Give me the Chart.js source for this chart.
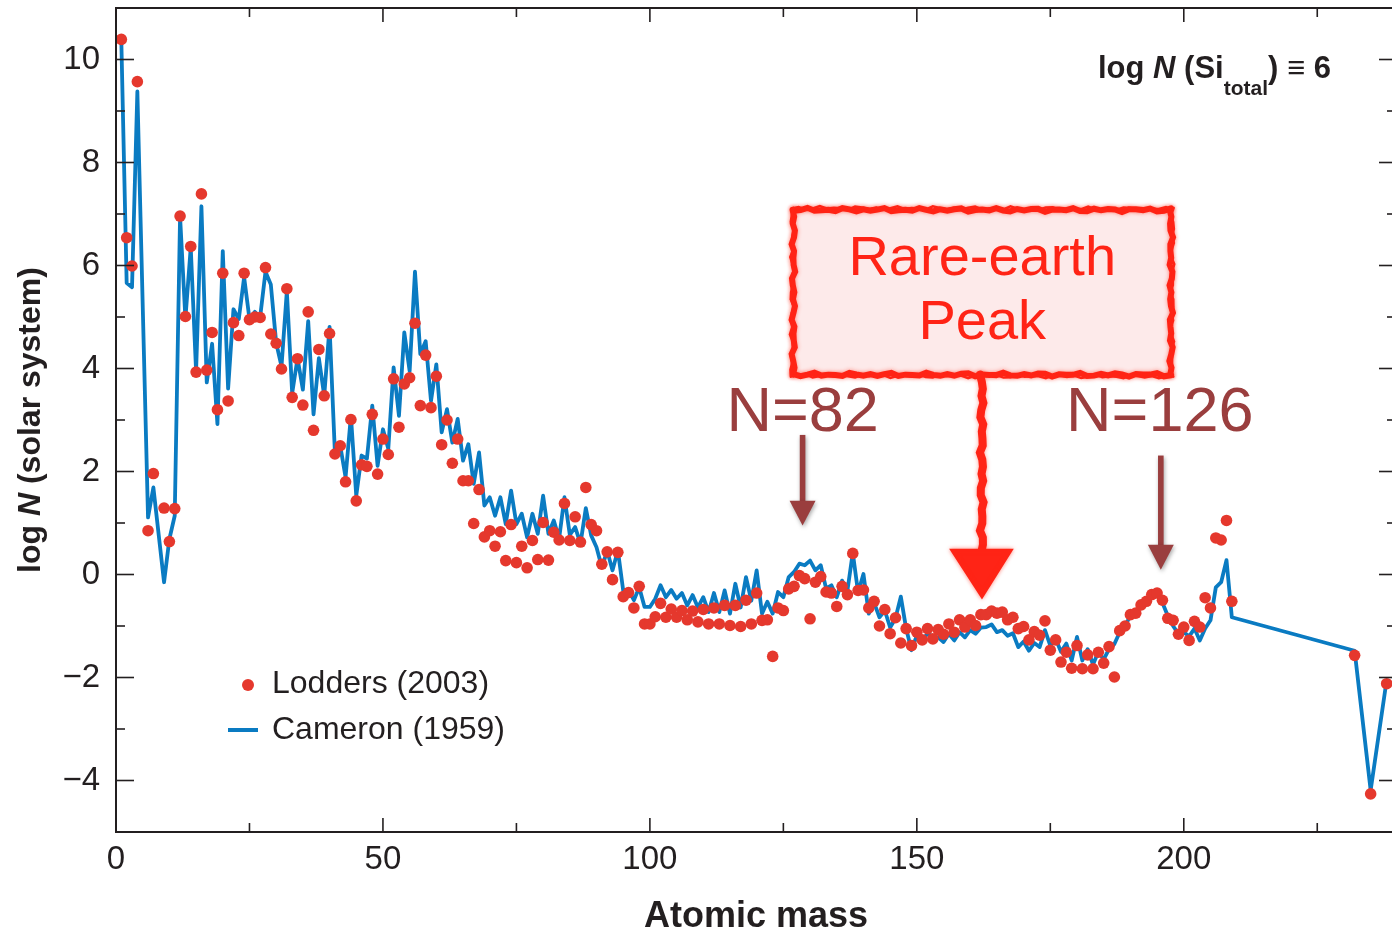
<!DOCTYPE html>
<html>
<head>
<meta charset="utf-8">
<title>Solar system abundances</title>
<script src="https://cdn.jsdelivr.net/npm/chart.js@4.4.1/dist/chart.umd.min.js"></script>
<style>
  html, body { margin: 0; padding: 0; background: #ffffff; overflow: hidden; }
  canvas { display: block; }
</style>
</head>
<body>
<canvas id="abundChart" width="1392" height="931"></canvas>
<script>
// mass numbers shared by both series (no stable nuclei at A = 5, 8)
var massNumbers = [
  1, 2, 3, 4, 6, 7, 9, 10, 11,
  12, 13, 14, 15, 16, 17, 18, 19, 20,
  21, 22, 23, 24, 25, 26, 27, 28, 29, 30,
  31, 32, 33, 34, 35, 36, 37, 38, 39, 40,
  41, 42, 43, 44, 45, 46, 47, 48, 49, 50,
  51, 52, 53, 54, 55, 56, 57, 58, 59, 60,
  61, 62, 63, 64, 65, 66, 67, 68, 69, 70,
  71, 72, 73, 74, 75, 76, 77, 78, 79, 80,
  81, 82, 83, 84, 85, 86, 87, 88, 89, 90,
  91, 92, 93, 94, 95, 96, 97, 98, 99, 100,
  101, 102, 103, 104, 105, 106, 107, 108, 109, 110,
  111, 112, 113, 114, 115, 116, 117, 118, 119, 120,
  121, 122, 123, 124, 125, 126, 127, 128, 129, 130,
  131, 132, 133, 134, 135, 136, 137, 138, 139, 140,
  141, 142, 143, 144, 145, 146, 147, 148, 149, 150,
  151, 152, 153, 154, 155, 156, 157, 158, 159, 160,
  161, 162, 163, 164, 165, 166, 167, 168, 169, 170,
  171, 172, 173, 174, 175, 176, 177, 178, 179, 180,
  181, 182, 183, 184, 185, 186, 187, 188, 189, 190,
  191, 192, 193, 194, 195, 196, 197, 198, 199, 200,
  201, 202, 203, 204, 205, 206, 207, 208, 209,
  232, 235, 238
];

// log N, normalised to Si = 10^6
var lodders2003 = [
  10.39, 6.54, 5.99, 9.57, 0.85, 1.96, 1.29, 0.64, 1.28,
  6.96, 5.01, 6.37, 3.93, 7.39, 3.97, 4.70, 3.20, 5.85,
  3.37, 4.89, 4.64, 5.85, 4.95, 5.00, 4.99, 5.96, 4.67, 4.49,
  3.99, 5.55, 3.44, 4.19, 3.29, 5.10, 2.80, 4.37, 3.47, 4.68,
  2.34, 2.50, 1.80, 3.01, 1.43, 2.13, 2.10, 3.11, 1.95, 2.63,
  2.33, 3.80, 2.86, 3.70, 3.82, 4.88, 3.28, 4.26, 3.24, 3.85,
  2.52, 3.00, 2.16, 2.63, 1.82, 1.82, 0.99, 1.65, 0.73, 0.85,
  0.55, 0.83, 0.27, 0.97, 0.23, 0.55, 0.13, 0.66, 0.29, 1.01,
  0.28, 0.82, 0.67, 1.38, 0.66, 1.12, 0.63, 1.69, 0.97, 0.85,
  0.20, 0.44, -0.10, 0.43, -0.43, -0.35, -0.65, -0.23, -0.96, -0.96,
  -0.82, -0.56, -0.83, -0.67, -0.83, -0.70, -0.88, -0.71, -0.92, -0.68,
  -0.96, -0.65, -0.96, -0.60, -0.99, -0.60, -1.01, -0.50, -0.96, -0.36,
  -0.89, -0.88, -1.59, -0.65, -0.70, -0.28, -0.23, -0.02, -0.08, -0.86,
  -0.15, -0.04, -0.34, -0.36, -0.62, -0.23, -0.39, 0.41, -0.31, -0.30,
  -0.65, -0.52, -1.00, -0.68, -1.15, -0.84, -1.33, -1.05, -1.38, -1.12,
  -1.27, -1.05, -1.25, -1.07, -1.16, -0.96, -1.12, -0.88, -1.02, -0.88,
  -0.99, -0.78, -0.78, -0.71, -0.75, -0.73, -0.88, -0.83, -1.05, -1.01,
  -1.27, -1.11, -1.18, -0.90, -1.47, -1.27, -1.70, -1.51, -1.82, -1.38,
  -1.83, -1.56, -1.83, -1.51, -1.72, -1.40, -1.99, -1.09, -1.00, -0.78,
  -0.75, -0.59, -0.52, -0.39, -0.36, -0.50, -0.85, -0.89, -1.16, -1.02,
  -1.28, -0.91, -1.02, -0.45, -0.65, 0.71, 0.67, 1.05, -0.52,
  -1.57, -4.26, -2.12
];

var cameron1959 = [
  10.35, 5.66, 5.58, 9.38, 1.11, 1.69, -0.15, 0.69, 1.14,
  6.95, 4.97, 6.35, 3.95, 7.15, 3.73, 4.48, 2.92, 6.28,
  3.61, 5.15, 4.96, 5.77, 4.96, 5.10, 5.00, 5.88, 5.63, 4.50,
  4.04, 5.50, 3.52, 4.20, 3.59, 4.92, 3.11, 4.20, 3.47, 4.81,
  2.37, 2.50, 1.89, 3.08, 1.53, 2.31, 2.25, 3.28, 2.11, 2.82,
  2.44, 4.02, 3.08, 4.70, 3.95, 5.88, 4.28, 4.53, 3.37, 4.08,
  2.76, 3.21, 2.56, 3.02, 2.21, 2.53, 1.76, 2.37, 1.34, 1.50,
  1.14, 1.50, 0.98, 1.63, 0.98, 1.18, 0.72, 1.18, 0.79, 1.53,
  0.79, 1.05, 0.70, 1.50, 0.77, 0.92, 0.60, 1.29, 0.76, 0.53,
  0.14, 0.46, 0.08, 0.47, -0.31, -0.30, -0.50, -0.25, -0.63, -0.63,
  -0.47, -0.21, -0.44, -0.30, -0.47, -0.36, -0.60, -0.40, -0.64, -0.44,
  -0.73, -0.36, -0.73, -0.31, -0.76, -0.18, -0.64, -0.05, -0.51, 0.08,
  -0.76, -0.53, -0.76, -0.34, -0.44, -0.05, 0.05, 0.21, 0.18, 0.27,
  0.08, 0.18, -0.27, -0.21, -0.44, -0.12, -0.31, 0.42, -0.35, 0.01,
  -0.76, -0.55, -0.83, -0.70, -1.03, -0.85, -0.43, -1.05, -1.47, -1.18,
  -1.27, -1.15, -1.20, -1.22, -1.31, -1.15, -1.28, -1.12, -1.22, -1.08,
  -1.15, -1.03, -1.02, -0.97, -1.12, -1.08, -1.19, -1.14, -1.41, -1.30,
  -1.48, -1.33, -1.41, -1.08, -1.38, -1.25, -1.50, -1.34, -1.67, -1.21,
  -1.67, -1.45, -1.75, -1.50, -1.65, -1.45, -1.35, -1.12, -1.00, -0.80,
  -0.72, -0.60, -0.50, -0.33, -0.30, -0.55, -0.80, -1.00, -1.15, -1.12,
  -1.20, -1.05, -1.28, -1.05, -0.89, -0.25, -0.15, 0.28, -0.83,
  -1.48, -4.19, -2.05
];

var xTickValues = [0, 50, 100, 150, 200];
var xMinorTicks = [25, 75, 125, 175, 225];
var yTickValues = [-4, -2, 0, 2, 4, 6, 8, 10];
var yMinorTicks = [-3, -1, 1, 3, 5, 7, 9];

var RED = "#e5382d";
var BLUE = "#0a7bc2";
var INK = "#231f20";
var BROWN = "#9a3e3e";
var SKETCH_RED = "#ff2416";
var FONT = "'Liberation Sans', Arial, Helvetica, sans-serif";

var lodPoints = massNumbers.map(function(m, i) { return { x: m, y: lodders2003[i] }; });
var camPoints = massNumbers.map(function(m, i) { return { x: m, y: cameron1959[i] }; });

// wobbly line used for the hand-drawn box and arrow
function roughLine(ctx, x1, y1, x2, y2, seed) {
  var len = Math.hypot(x2 - x1, y2 - y1);
  var n = Math.max(2, Math.round(len / 7));
  var nx = -(y2 - y1) / len, ny = (x2 - x1) / len;
  ctx.beginPath();
  for (var i = 0; i <= n; i++) {
    var t = i / n;
    var off = 1.3 * Math.sin(i * 2.3 + seed) + 0.8 * Math.sin(i * 5.1 + seed * 1.7);
    var px = x1 + (x2 - x1) * t + nx * off;
    var py = y1 + (y2 - y1) * t + ny * off;
    if (i === 0) ctx.moveTo(px, py); else ctx.lineTo(px, py);
  }
  ctx.stroke();
}

function drawTicks(ctx, scale, values, length, side, area) {
  values.forEach(function(v) {
    var p = scale.getPixelForValue(v);
    ctx.beginPath();
    if (side === "left") { ctx.moveTo(area.left, p); ctx.lineTo(area.left + length, p); }
    if (side === "right") { ctx.moveTo(area.right, p); ctx.lineTo(area.right - length, p); }
    if (side === "bottom") { ctx.moveTo(p, area.bottom); ctx.lineTo(p, area.bottom - length); }
    if (side === "top") { ctx.moveTo(p, area.top); ctx.lineTo(p, area.top + length); }
    ctx.stroke();
  });
}

function brownArrow(ctx, x, yTop, yBase, yTip, half) {
  ctx.save();
  ctx.shadowColor = "rgba(0,0,0,0.35)";
  ctx.shadowBlur = 4;
  ctx.shadowOffsetX = 1;
  ctx.shadowOffsetY = 2;
  ctx.fillStyle = BROWN;
  ctx.fillRect(x - 2.8, yTop, 5.6, yBase - yTop + 1);
  ctx.beginPath();
  ctx.moveTo(x - half, yBase);
  ctx.lineTo(x + half, yBase);
  ctx.lineTo(x, yTip);
  ctx.closePath();
  ctx.fill();
  ctx.restore();
}

// drop the automatic label overhang so the plot box fills the canvas
function tightFit(width, height) {
  return function(scale) {
    if (width) scale.width = width;
    if (height) scale.height = height;
    scale.paddingLeft = 0;
    scale.paddingRight = 0;
    scale.paddingTop = 0;
    scale.paddingBottom = 0;
  };
}

var framePlugin = {
  id: "frameAndNotes",
  afterDraw: function(chart) {
    var ctx = chart.ctx;
    var area = chart.chartArea;
    var xs = chart.scales.x, ys = chart.scales.y;
    ctx.save();

    // frame and inward ticks
    ctx.strokeStyle = INK;
    ctx.lineWidth = 2;
    ctx.beginPath();
    ctx.moveTo(area.right, area.top);
    ctx.lineTo(area.left, area.top);
    ctx.lineTo(area.left, area.bottom);
    ctx.lineTo(area.right, area.bottom);
    ctx.stroke();
    ctx.lineWidth = 1.6;
    drawTicks(ctx, ys, yTickValues, 18, "left", area);
    drawTicks(ctx, ys, yMinorTicks, 9, "left", area);
    drawTicks(ctx, ys, yTickValues, 13, "right", area);
    drawTicks(ctx, ys, yMinorTicks, 5, "right", area);
    drawTicks(ctx, xs, xTickValues, 14, "bottom", area);
    drawTicks(ctx, xs, xMinorTicks, 9, "bottom", area);
    drawTicks(ctx, xs, xTickValues, 14, "top", area);
    drawTicks(ctx, xs, xMinorTicks, 9, "top", area);

    // axis titles
    ctx.fillStyle = INK;
    ctx.textBaseline = "alphabetic";
    ctx.textAlign = "center";
    ctx.font = "bold 36px " + FONT;
    ctx.fillText("Atomic mass", 756, 927);

    ctx.save();
    ctx.translate(40, 420);
    ctx.rotate(-Math.PI / 2);
    var parts = [["log ", "bold"], ["N", "italic bold"], [" (solar system)", "bold"]];
    var total = 0;
    parts.forEach(function(p) { ctx.font = p[1] + " 32px " + FONT; total += ctx.measureText(p[0]).width; });
    var cx = -total / 2;
    ctx.textAlign = "left";
    parts.forEach(function(p) {
      ctx.font = p[1] + " 32px " + FONT;
      ctx.fillText(p[0], cx, 0);
      cx += ctx.measureText(p[0]).width;
    });
    ctx.restore();

    // normalisation label
    ctx.textAlign = "left";
    var tx = 1098;
    ctx.font = "bold 31px " + FONT;
    ctx.fillText("log ", tx, 78); tx += ctx.measureText("log ").width;
    ctx.font = "italic bold 31px " + FONT;
    ctx.fillText("N", tx, 78); tx += ctx.measureText("N").width;
    ctx.font = "bold 31px " + FONT;
    ctx.fillText(" (Si", tx, 78); tx += ctx.measureText(" (Si").width;
    ctx.font = "bold 21px " + FONT;
    ctx.fillText("total", tx, 95); tx += ctx.measureText("total").width;
    ctx.font = "bold 31px " + FONT;
    ctx.fillText(") \u2261 6", tx, 78);

    // legend
    ctx.fillStyle = RED;
    ctx.beginPath();
    ctx.arc(248, 685, 6, 0, Math.PI * 2);
    ctx.fill();
    ctx.strokeStyle = BLUE;
    ctx.lineWidth = 4;
    ctx.beginPath();
    ctx.moveTo(228, 730);
    ctx.lineTo(258, 730);
    ctx.stroke();
    ctx.fillStyle = INK;
    ctx.font = "32px " + FONT;
    ctx.textBaseline = "middle";
    ctx.fillText("Lodders (2003)", 272, 684);
    ctx.fillText("Cameron (1959)", 272, 730);

    // closed-shell markers
    var x82 = xs.getPixelForValue(128.6);
    var x126 = xs.getPixelForValue(195.7);
    brownArrow(ctx, x82, ys.getPixelForValue(2.71), ys.getPixelForValue(1.43), ys.getPixelForValue(0.95), 13);
    brownArrow(ctx, x126, ys.getPixelForValue(2.31), ys.getPixelForValue(0.58), ys.getPixelForValue(0.09), 13);
    ctx.fillStyle = BROWN;
    ctx.textBaseline = "alphabetic";
    ctx.textAlign = "center";
    ctx.font = "63px " + FONT;
    ctx.fillText("N=82", x82, 431);
    ctx.fillText("N=126", x126 - 1, 431);

    // rare-earth box and arrow
    var bx1 = xs.getPixelForValue(126.9), bx2 = xs.getPixelForValue(197.6);
    var by1 = ys.getPixelForValue(7.08), by2 = ys.getPixelForValue(3.88);
    var ax = xs.getPixelForValue(162.2);
    var headBase = ys.getPixelForValue(0.48), headTip = ys.getPixelForValue(-0.45);
    ctx.fillStyle = "#fdeaea";
    ctx.fillRect(bx1, by1, bx2 - bx1, by2 - by1);
    ctx.save();
    ctx.shadowColor = "rgba(255,40,20,0.45)";
    ctx.shadowBlur = 4;
    ctx.strokeStyle = SKETCH_RED;
    ctx.lineCap = "round";
    ctx.lineWidth = 6;
    roughLine(ctx, bx1, by1, bx2, by1, 0.4);
    roughLine(ctx, bx2, by1, bx2, by2, 1.9);
    roughLine(ctx, bx2, by2, bx1, by2, 3.1);
    roughLine(ctx, bx1, by2, bx1, by1, 4.6);
    ctx.lineWidth = 2.5;
    roughLine(ctx, bx1 - 2, by1 - 2, bx2 + 2, by1 - 1, 2.2);
    roughLine(ctx, bx2 + 2, by1 - 2, bx2 + 1, by2 + 2, 5.3);
    roughLine(ctx, bx2 + 2, by2 + 2, bx1 - 2, by2 + 1, 0.9);
    roughLine(ctx, bx1 - 2, by2 + 2, bx1 - 1, by1 - 2, 3.7);
    ctx.lineWidth = 8;
    roughLine(ctx, ax, by2, ax, headBase + 2, 1.2);
    ctx.fillStyle = SKETCH_RED;
    ctx.beginPath();
    ctx.moveTo(ax - 31, headBase);
    ctx.lineTo(ax + 30, headBase);
    ctx.lineTo(ax, headTip);
    ctx.closePath();
    ctx.fill();
    ctx.lineWidth = 2;
    ctx.stroke();
    ctx.restore();

    ctx.fillStyle = SKETCH_RED;
    ctx.font = "56px " + FONT;
    var bcx = (bx1 + bx2) / 2;
    ctx.fillText("Rare-earth", bcx, 275);
    ctx.fillText("Peak", bcx, 339);

    ctx.restore();
  }
};

var chart = new Chart(document.getElementById("abundChart"), {
  type: "scatter",
  data: {
    datasets: [
      {
        label: "Lodders (2003)",
        data: lodPoints,
        pointRadius: 5.8,
        pointBorderWidth: 0,
        pointBackgroundColor: RED,
        backgroundColor: RED,
        showLine: false
      },
      {
        label: "Cameron (1959)",
        data: camPoints,
        showLine: true,
        pointRadius: 0,
        borderColor: BLUE,
        borderWidth: 3.8,
        borderJoinStyle: "round",
        tension: 0,
        fill: false
      }
    ]
  },
  options: {
    responsive: false,
    animation: false,
    devicePixelRatio: 1,
    layout: { autoPadding: false, padding: { top: 8, right: 0, left: 0, bottom: 0 } },
    plugins: {
      legend: { display: false },
      tooltip: { enabled: false }
    },
    scales: {
      x: {
        type: "linear",
        min: 0,
        max: 239,
        border: { display: false },
        grid: { display: false, drawTicks: false },
        afterBuildTicks: function(scale) {
          scale.ticks = xTickValues.map(function(v) { return { value: v }; });
        },
        afterFit: tightFit(0, 99),
        ticks: {
          padding: 8,
          color: INK,
          font: { family: FONT, size: 33 },
          maxRotation: 0,
          callback: function(v) { return String(v); }
        }
      },
      y: {
        type: "linear",
        min: -5,
        max: 11,
        border: { display: false },
        grid: { display: false, drawTicks: false },
        afterBuildTicks: function(scale) {
          scale.ticks = yTickValues.map(function(v) { return { value: v }; });
        },
        afterFit: tightFit(116, 0),
        ticks: {
          padding: 16,
          color: INK,
          font: { family: FONT, size: 33 },
          callback: function(v) { return v < 0 ? "\u2212" + Math.abs(v) : String(v); }
        }
      }
    }
  },
  plugins: [framePlugin]
});
</script>
</body>
</html>
